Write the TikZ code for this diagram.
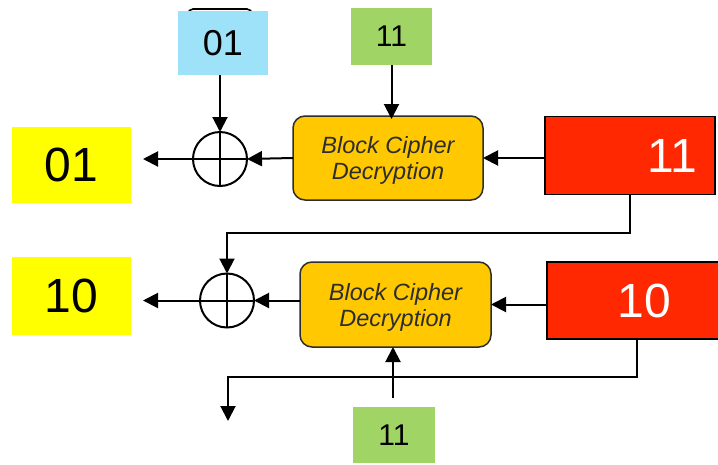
\documentclass[tikz,border=0pt]{standalone}
\usepackage{fontspec}
\setmainfont{Liberation Sans}
\usetikzlibrary{arrows.meta}
\definecolor{cyel}{RGB}{255,255,0}
\definecolor{cblue}{RGB}{158,226,250}
\definecolor{cgreen}{RGB}{160,212,100}
\definecolor{cred}{RGB}{255,40,0}
\definecolor{corange}{RGB}{255,200,0}
\definecolor{cdark}{RGB}{45,45,45}
\tikzset{
  arr/.style={line width=2pt,-{Triangle[length=15pt,width=15pt]}},
  ln/.style={line width=2pt},
  plain/.style={inner sep=0pt,outer sep=0pt,font=\fontsize{36}{40}\selectfont},
  yelbox/.style={plain,fill=cyel,font=\fontsize{48}{52}\selectfont},
  bluebox/.style={plain,fill=cblue},
  greenbox/.style={plain,fill=cgreen,font=\fontsize{30}{34}\selectfont},
  redbox/.style={plain,fill=cred,draw=black,line width=1.6pt},
  rednum/.style={text=white,font=\fontsize{48}{52}\selectfont,inner sep=0pt},
  bcbox/.style={plain,fill=corange,draw=cdark,line width=1.5pt,rounded corners=12pt,
     align=center,text=cdark,text depth=0pt,font=\fontsize{23.5}{26}\selectfont\itshape},
  xorc/.style={circle,draw=black,line width=2pt,minimum size=54pt,inner sep=0pt,outer sep=0pt}
}
\begin{document}
\begin{tikzpicture}[x=1pt,y=-1pt]
\useasboundingbox (0,0) rectangle (718,464);
% hidden rounded box behind the blue one
\draw[line width=1.6pt,rounded corners=5pt] (188,22) -- (188,9) -- (252,9) -- (252,22);
\node[bluebox,minimum width=90pt,minimum height=64pt] (b1) at (223,43) {01};
\node[greenbox,minimum width=81pt,minimum height=57pt] (g1) at (391.5,36.5) {11};
\node[bcbox,minimum width=190pt,minimum height=84pt] (bc1) at (388,158) {Block Cipher\\Decryption};
\node[xorc] (x1) at (220,159) {};
\node[redbox,minimum width=170pt,minimum height=78pt,
      label={[rednum,xshift=42pt]center:11}] (r1) at (630,155.5) {};
\node[yelbox,minimum width=119pt,minimum height=76pt] (y1) at (71.5,165) {01};
\node[yelbox,minimum width=119pt,minimum height=78pt] (y2) at (71.5,296) {10};
\node[xorc] (x2) at (227,300.5) {};
\node[bcbox,minimum width=191pt,minimum height=85pt] (bc2) at (395.5,304.5) {Block Cipher\\Decryption};
\node[redbox,minimum width=175pt,minimum height=77pt,
      label={[rednum,xshift=10pt]center:10}] (r2) at (634.5,300.5) {};
\node[greenbox,minimum width=82pt,minimum height=56pt] (g2) at (394,435) {11};
\coordinate (o1) at (143,159);
\coordinate (o2) at (143,304);
\coordinate (r2b) at (637,339);
\coordinate (dn) at (228,421);
% xor crosses
\draw[ln] (x1.north) -- (x1.south) (x1.west) -- (x1.east);
\draw[ln] (x2.north) -- (x2.south) (x2.west) -- (x2.east);
% top row
\draw[arr] (g1.south) -- ([yshift=-3pt]g1.south |- bc1.north);
\draw[arr] (x1.north |- b1.south) -- (x1.north);
\draw[arr] (r1.west |- bc1.east) -- (bc1.east);
\draw[arr] (bc1.west) -- (x1.east);
\draw[arr] (x1.west) -- (o1);
% feedback to second row
\draw[arr] (r1.south) -- ++(0,38) -| (x2.north);
% bottom row
\draw[arr] (r2.west |- bc2.east) -- (bc2.east);
\draw[arr] (bc2.west |- x2.east) -- (x2.east);
\draw[arr] (x2.west) -- (o2 |- x2.west);
\draw[arr] (r2b) -- (637,377) -| (dn);
\draw[arr,shorten <=9pt] (g2.north -| 393,0) -- (393,0 |- bc2.south);
\end{tikzpicture}
\end{document}
